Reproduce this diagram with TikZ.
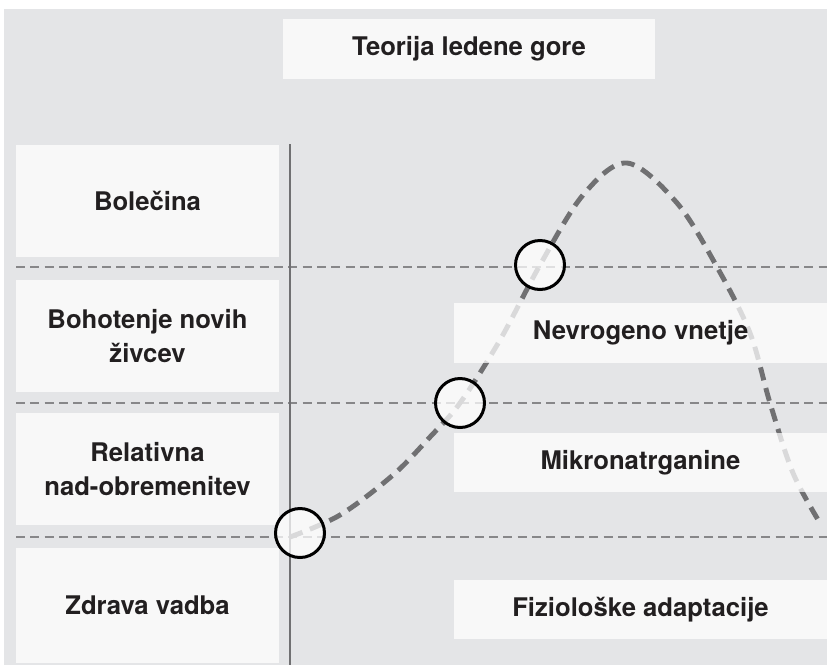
\documentclass[tikz,border=0pt]{standalone}
\usepackage{fontspec}
\setmainfont{TeX Gyre Heros}
\definecolor{bggray}{RGB}{228,229,231}
\definecolor{guidegray}{RGB}{135,135,137}
\definecolor{curvegray}{RGB}{112,112,114}
\definecolor{inkblack}{RGB}{34,31,32}
\begin{document}
\begin{tikzpicture}[x=0.75pt, y=-0.75pt,
    panel/.style = {fill = white, fill opacity = 0.74, text opacity = 1, text = inkblack,
                    font = \fontsize{19.25}{25}\selectfont\bfseries, align = center,
                    inner sep = 0pt},
    leftbox/.style = {panel, minimum width = 197.25pt, minimum height = 84pt},
    rightbox/.style = {panel, minimum width = 279.75pt, minimum height = 44.5pt},
    guide/.style = {draw = guidegray, line width = 2pt, dash pattern = on 6.75pt off 4pt},
    marker/.style = {circle, draw = black, line width = 2.25pt, fill = white,
                     fill opacity = 0.74, minimum size = 36.75pt, inner sep = 0pt}]

    \useasboundingbox (0,0) rectangle (827,668);
    \fill [bggray] (4,9) rectangle (827,665);

    % Level lines
    \draw [guide] (16,267) -- (827,267);
    \draw [guide] (16,403) -- (827,403);
    \draw [guide] (16,537) -- (827,537);

    % Axis
    \draw [curvegray, line width = 1.1pt] (290,144) -- (290,665);

    % Tissue load curve
    \draw [curvegray, line width = 3.7pt, dash pattern = on 10pt off 6pt]
        plot [smooth, tension = 0.55] coordinates {(290,537) (340,515) (393,475) (430,437)
        (460,403) (500,340) (540,265) (583,195) (627,163) (677,203) (717,267) (750,333)
        (770,403) (793,473) (820,523)};

    % Title
    \node [panel, minimum width = 279pt, minimum height = 45pt] (title) at (469,49) {Teorija ledene gore};

    % Left column
    \node [leftbox] (pain) at (147.5,201) {Bolečina};
    \node [leftbox] (nerves) at (147.5,336) {Bohotenje novih\\živcev};
    \node [leftbox] (overload) at (147.5,469) {Relativna\\nad-obremenitev};
    \node [leftbox, minimum height = 86.25pt] (training) at (147.5,605.5) {Zdrava vadba};

    % Right column
    \node [rightbox] (inflam) at (640.5,333) {Nevrogeno vnetje};
    \node [rightbox] (tears) at (640.5,462.5) {Mikronatrganine};
    \node [rightbox] (adapt) at (640.5,609.5) {Fiziološke adaptacije};

    % Crossing points
    \node [marker] (low) at (300,533) {};
    \node [marker] (mid) at (460,403) {};
    \node [marker] (high) at (540,265) {};

\end{tikzpicture}
\end{document}
